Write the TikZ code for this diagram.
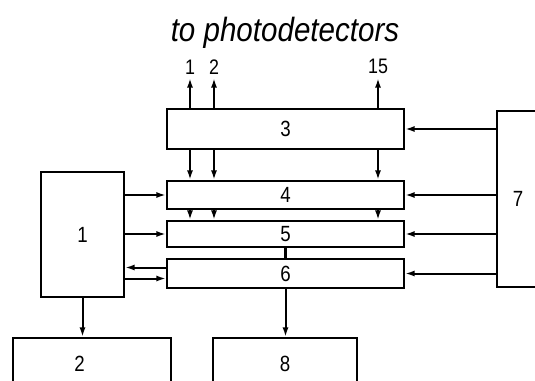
\documentclass[tikz,border=0pt]{standalone}
\usepackage{fontspec}
\setmainfont{Liberation Sans}
\newfontfamily\titlefont[FakeStretch=0.88]{Liberation Sans}
\newfontfamily\numfont[FakeStretch=0.85]{Liberation Sans}
\usetikzlibrary{arrows.meta}
\tikzstyle{block} = [rectangle, draw, line width=1pt, inner sep=0pt,
    font=\numfont\fontsize{11}{13}\selectfont]
\tikzstyle{wide} = [block, minimum width=118.5pt]
\tikzstyle{arrow} = [-{Latex[length=4.8pt,width=3pt]}, line width=1pt]
\begin{document}
\begin{tikzpicture}[x=0.5pt, y=-0.5pt]
        \useasboundingbox (0,0) rectangle (535,380);
        \clip (0,0) rectangle (535,380);
        % Nodes
        \node (title) at (285,33) {\titlefont\itshape\fontsize{16.8}{20}\selectfont to photodetectors};
        \node (b3) [wide, minimum height=20pt] at (285.5,129) {3};
        \node (b4) [wide, minimum height=14pt] at (285.5,195) {4};
        \node (b5) [wide, minimum height=13pt] at (285.5,234) {5};
        \node (b6) [wide, minimum height=14.5pt] at (285.5,273.5) {6};
        \node (b1) [block, minimum width=41.5pt, minimum height=62.5pt] at (82.5,234.5) {1};
        \node (b7) [block, minimum width=21pt, minimum height=88pt] at (518,199) {7};
        \node (b2) [block, anchor=north, minimum width=79pt, minimum height=26pt,
            label={[xshift=-6pt, font=\numfont\fontsize{11}{13}\selectfont]center:2}] at (91.5,337) {};
        \node (b8) [block, anchor=north, minimum width=72pt, minimum height=26pt] at (285,337) {8};
        \coordinate (b6in) at ([yshift=3pt]b6.west);
        \coordinate (b6out) at ([yshift=-2.5pt]b6.west);

        % Arrows
        \foreach \x/\n in {190/1, 214/2, 378/15} {
            \coordinate (out\n) at (\x,78);
            \draw[arrow] (\x,0 |- b3.north) -- (out\n)
                node[above, inner sep=1.5pt, name=lbl\n, font=\numfont\fontsize{10.5}{12}\selectfont] {\n};
            \draw[arrow] (\x,0 |- b3.south) -- (\x,0 |- b4.north);
            \draw[arrow] (\x,0 |- b4.south) -- (\x,0 |- b5.north);
        }
        \draw[arrow] (b1.east |- b4) -- (b4);
        \draw[arrow] (b1.east |- b5) -- (b5);
        \draw[arrow] (b6in) -- (b1.east |- b6in);
        \draw[arrow] (b1.east |- b6out) -- (b6out);
        \draw[line width=1.3pt] (b5.south) -- (b6.north);
        \draw[arrow] (b1.south) -- (b1.south |- b2.north);
        \draw[arrow] (b6.south) -- (b6.south |- b8.north);
        \draw[arrow] (b7.west |- b3) -- (b3);
        \draw[arrow] (b7.west |- b4) -- (b4);
        \draw[arrow] (b7.west |- b5) -- (b5);
        \draw[arrow] (b7.west |- b6) -- (b6);
\end{tikzpicture}
\end{document}
